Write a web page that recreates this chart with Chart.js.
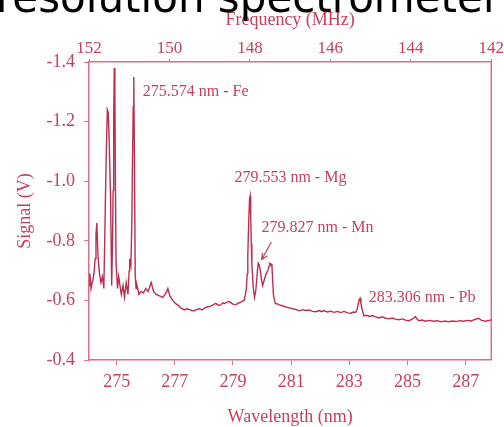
<!DOCTYPE html>
<html>
<head>
<meta charset="utf-8">
<script src="https://cdn.jsdelivr.net/npm/chart.js@4.4.1/dist/chart.umd.min.js"></script>
<style>
  html, body { margin: 0; padding: 0; background: #fff; }
  #wrap { position: relative; width: 504px; height: 427px; overflow: hidden; }
</style>
</head>
<body>
<div id="wrap"><canvas id="myChart"></canvas></div>
<script>
// Longitud de onda (nm) de cada punto del espectro
var wavelengths = [
  274.05, 274.08, 274.12, 274.16, 274.19, 274.23, 274.26, 274.29, 274.32, 274.34,
  274.36, 274.41, 274.46, 274.51, 274.56, 274.59, 274.62, 274.65, 274.68, 274.71,
  274.74, 274.79, 274.83, 274.86, 274.88, 274.90, 274.92, 274.94, 274.96, 274.98,
  275.03, 275.07, 275.10, 275.16, 275.22, 275.27, 275.33, 275.39, 275.43, 275.45,
  275.49, 275.52, 275.54, 275.57, 275.59, 275.61, 275.64, 275.67, 275.70, 275.77,
  275.84, 275.92, 276.00, 276.08, 276.19, 276.27, 276.36, 276.47, 276.59, 276.70,
  276.76, 276.83, 276.93, 277.02, 277.10, 277.20, 277.33, 277.42, 277.50, 277.58,
  277.67, 277.76, 277.85, 277.93, 278.01, 278.10, 278.20, 278.30, 278.41, 278.50,
  278.58, 278.65, 278.71, 278.80, 278.87, 278.96, 279.03, 279.10, 279.16, 279.22,
  279.30, 279.38, 279.43, 279.46, 279.49, 279.51, 279.54, 279.57, 279.59, 279.61,
  279.63, 279.65, 279.70, 279.74, 279.78, 279.81, 279.84, 279.87, 279.90, 279.94,
  279.98, 280.02, 280.05, 280.08, 280.14, 280.20, 280.24, 280.27, 280.31, 280.34,
  280.37, 280.39, 280.43, 280.46, 280.53, 280.59, 280.70, 280.81, 280.94, 281.05,
  281.16, 281.28, 281.40, 281.50, 281.62, 281.73, 281.85, 281.97, 282.05, 282.13,
  282.25, 282.36, 282.48, 282.60, 282.70, 282.82, 282.94, 283.06, 283.14, 283.22,
  283.27, 283.30, 283.34, 283.37, 283.40, 283.44, 283.50, 283.60, 283.70, 283.80,
  283.90, 284.02, 284.14, 284.25, 284.36, 284.48, 284.59, 284.70, 284.82, 284.93,
  285.05, 285.15, 285.22, 285.27, 285.32, 285.39, 285.50, 285.62, 285.75, 285.90,
  286.03, 286.16, 286.29, 286.41, 286.54, 286.67, 286.80, 286.93, 287.06, 287.19,
  287.32, 287.44, 287.55, 287.68, 287.80, 287.89
];

// Señal medida (V) en cada longitud de onda
var signal = [
  -0.650, -0.690, -0.640, -0.660, -0.670, -0.700, -0.740, -0.820, -0.860, -0.800,
  -0.750, -0.690, -0.660, -0.680, -0.640, -0.800, -0.970, -1.120, -1.240, -1.230,
  -1.150, -0.950, -0.650, -0.800, -0.970, -1.220, -1.380, -1.300, -0.980, -0.730,
  -0.640, -0.680, -0.660, -0.620, -0.650, -0.610, -0.660, -0.620, -0.700, -0.740,
  -0.720, -0.850, -1.020, -1.250, -1.350, -1.100, -0.680, -0.640, -0.650, -0.620,
  -0.630, -0.625, -0.640, -0.630, -0.660, -0.630, -0.620, -0.615, -0.610, -0.625,
  -0.640, -0.615, -0.600, -0.590, -0.585, -0.575, -0.568, -0.572, -0.570, -0.566,
  -0.565, -0.570, -0.572, -0.568, -0.573, -0.578, -0.580, -0.584, -0.590, -0.584,
  -0.585, -0.592, -0.590, -0.594, -0.596, -0.590, -0.586, -0.585, -0.590, -0.592,
  -0.596, -0.600, -0.620, -0.640, -0.690, -0.750, -0.860, -0.940, -0.950, -0.880,
  -0.790, -0.720, -0.640, -0.610, -0.630, -0.660, -0.700, -0.725, -0.720, -0.700,
  -0.670, -0.650, -0.660, -0.670, -0.690, -0.700, -0.715, -0.725, -0.722, -0.715,
  -0.660, -0.620, -0.600, -0.590, -0.588, -0.585, -0.582, -0.578, -0.575, -0.572,
  -0.570, -0.565, -0.569, -0.566, -0.568, -0.563, -0.562, -0.566, -0.562, -0.566,
  -0.561, -0.564, -0.560, -0.563, -0.559, -0.563, -0.558, -0.557, -0.561, -0.560,
  -0.570, -0.585, -0.602, -0.607, -0.590, -0.570, -0.548, -0.550, -0.546, -0.549,
  -0.545, -0.541, -0.545, -0.540, -0.538, -0.541, -0.537, -0.535, -0.538, -0.534,
  -0.532, -0.536, -0.542, -0.546, -0.538, -0.532, -0.534, -0.530, -0.533, -0.530,
  -0.532, -0.528, -0.531, -0.528, -0.531, -0.529, -0.532, -0.530, -0.533, -0.531,
  -0.536, -0.540, -0.533, -0.530, -0.533, -0.534
];

// Marcas de los ejes
var wavelengthTicks = [275, 277, 279, 281, 283, 285, 287];
var frequencyTicks = [152, 150, 148, 146, 144, 142];
var signalTicks = [-1.4, -1.2, -1.0, -0.8, -0.6, -0.4];

// Etiquetas de los picos
var peakNames = ['275.574 nm - Fe', '279.553 nm - Mg', '279.827 nm - Mn', '283.306 nm - Pb'];

var textColor = '#c8405e';
var axisColor = '#dc6f86';
var lineColor = '#bf2d4d';
var serif = '"Liberation Serif", "Times New Roman", serif';

// Posición de cada etiqueta (en unidades de los ejes)
var peakLabelPos = [
  { x: 275.90, y: -1.30 },
  { x: 279.05, y: -1.01 },
  { x: 279.98, y: -0.843 },
  { x: 283.67, y: -0.608 }
];

var tickList = function (list) {
  return function (axis) {
    axis.ticks = list.map(function (v) { return { value: v }; });
  };
};

var extras = {
  id: 'extras',
  beforeDatasetsDraw: function (c) {
    var a = c.chartArea, ctx = c.ctx;
    ctx.save();
    ctx.strokeStyle = axisColor;
    ctx.lineWidth = 1.5;
    ctx.beginPath();
    ctx.moveTo(a.right, a.top);
    ctx.lineTo(a.right, a.bottom);
    ctx.stroke();
    ctx.restore();
  },
  afterDraw: function (c) {
    var ctx = c.ctx, sx = c.scales.x, sy = c.scales.y;
    ctx.save();
    // titular recortado de arriba
    ctx.fillStyle = '#000';
    ctx.font = '42px "DejaVu Sans", sans-serif';
    ctx.textBaseline = 'alphabetic';
    ctx.fillText('resolution spectrometer', -4, 12);

    // etiquetas de picos
    ctx.fillStyle = textColor;
    ctx.font = '16px ' + serif;
    ctx.textBaseline = 'middle';
    peakNames.forEach(function (t, i) {
      ctx.fillText(t, sx.getPixelForValue(peakLabelPos[i].x), sy.getPixelForValue(peakLabelPos[i].y));
    });

    // flecha hacia el pico de Mn
    var x1 = sx.getPixelForValue(280.32), y1 = sy.getPixelForValue(-0.796);
    var x2 = sx.getPixelForValue(279.98), y2 = sy.getPixelForValue(-0.736);
    ctx.strokeStyle = textColor;
    ctx.lineWidth = 1.2;
    ctx.beginPath();
    ctx.moveTo(x1, y1);
    ctx.lineTo(x2, y2);
    ctx.moveTo(x2, y2);
    ctx.lineTo(x2 + 1, y2 - 7);
    ctx.moveTo(x2, y2);
    ctx.lineTo(x2 + 6, y2 - 4);
    ctx.stroke();
    ctx.restore();
  }
};

var chart = document.getElementById('myChart').getContext('2d');
var myChart = new Chart(chart, {
  type: 'line',
  data: {
    datasets: [{
      data: wavelengths.map(function (w, i) { return { x: w, y: signal[i] }; }),
      borderColor: lineColor,
      borderWidth: 1.4,
      pointRadius: 0,
      tension: 0,
      fill: false
    }]
  },
  options: {
    responsive: true,
    maintainAspectRatio: false,
    animation: false,
    layout: { padding: { top: 0, right: 10, bottom: 0, left: 0 } },
    plugins: { legend: { display: false }, tooltip: { enabled: false } },
    scales: {
      x: {
        type: 'linear',
        position: 'bottom',
        min: 274.05,
        max: 287.88,
        afterBuildTicks: tickList(wavelengthTicks),
        afterFit: function (s) { s.height = 67; },
        border: { color: axisColor, width: 1.5 },
        grid: { drawOnChartArea: false, tickLength: 5, color: axisColor },
        ticks: { color: textColor, font: { family: serif, size: 18 }, padding: 6, maxRotation: 0 },
        title: { display: true, text: 'Wavelength (nm)', color: textColor,
                 font: { family: serif, size: 18, lineHeight: 1.1 }, padding: 0 }
      },
      x2: {
        type: 'linear',
        position: 'top',
        min: 142,
        max: 152,
        reverse: true,
        afterBuildTicks: tickList(frequencyTicks),
        afterFit: function (s) { s.height = 62; },
        border: { color: axisColor, width: 1.5 },
        grid: { drawOnChartArea: false, tickLength: 3, color: axisColor },
        ticks: { color: textColor, font: { family: serif, size: 17 }, padding: 0, maxRotation: 0 },
        title: { display: true, text: 'Frequency (MHz)', color: textColor,
                 font: { family: serif, size: 18, lineHeight: 1.2 }, padding: { top: 9, bottom: 0 } }
      },
      y: {
        type: 'linear',
        min: -1.4,
        max: -0.4,
        reverse: true,
        afterBuildTicks: tickList(signalTicks),
        afterFit: function (s) { s.width = 89; },
        border: { color: axisColor, width: 1.5 },
        grid: { drawOnChartArea: false, tickLength: 5, color: axisColor },
        ticks: { color: textColor, font: { family: serif, size: 18 }, padding: 9,
                 callback: function (v) { return v.toFixed(1); } },
        title: { display: true, text: 'Signal (V)', color: textColor,
                 font: { family: serif, size: 18, lineHeight: 1.2 }, padding: { top: 14, bottom: 0 } }
      }
    }
  },
  plugins: [extras]
});
</script>
</body>
</html>
